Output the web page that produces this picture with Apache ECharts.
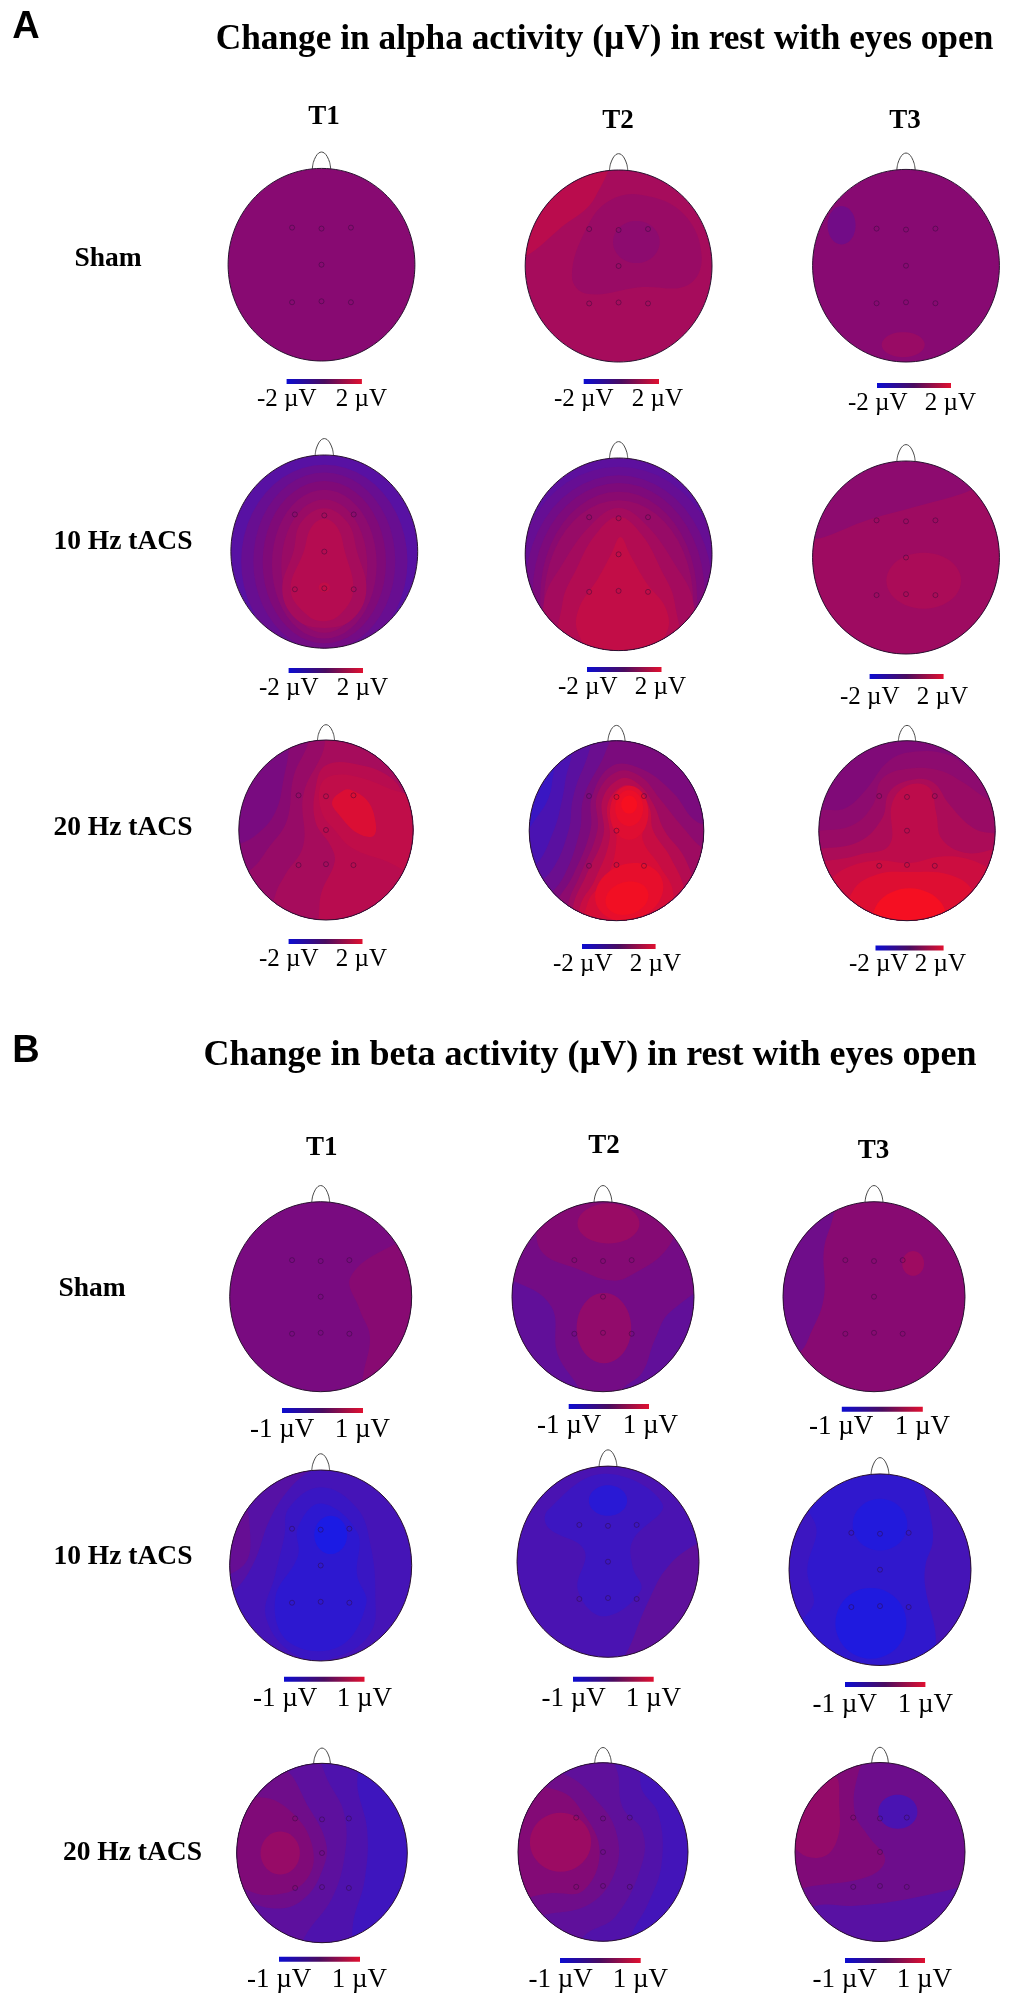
<!DOCTYPE html>
<html><head><meta charset="utf-8">
<style>html,body{margin:0;padding:0;background:#fff}#c{width:1016px;height:2010px}</style>
<script src="https://cdn.jsdelivr.net/npm/echarts@6/dist/echarts.min.js"></script>
</head><body><div id="c"></div>
<script>
// ---------- text ----------
const panelLetters = ['A','B'];
const panelTitles = ['Change in alpha activity (µV) in rest with eyes open','Change in beta activity (µV) in rest with eyes open'];
const sessions = ['T1','T2','T3'];
const conditions = ['Sham','10 Hz tACS','20 Hz tACS'];
const alphaTicks = ['-2 µV','2 µV'];
const betaTicks = ['-1 µV','1 µV'];
// ---------- electrodes (unit head coordinates) ----------
const electrodes = [[-.315,.385],[0,.375],[.315,.385],[0,0],[-.315,-.39],[0,-.38],[.315,-.39]];
const noseLine = [[-.1,.985],[-.088,1.06],[-.06,1.125],[-.03,1.16],[0,1.17],[.03,1.16],[.06,1.125],[.088,1.06],[.1,.985]];
// ---------- contour levels: v in µV, e=[cx,cy,rx,ry,rotDeg] or p=outline ----------
const alphaShamT1 = {base:.12, regions:[]};
const alphaShamT2 = {base:.6, regions:[
 {v:.92,p:[[-.13,1.2],[-.25,.72],[-.55,.45],[-1.1,.12],[-1.3,1.2]]},
 {v:.4,p:[[.25,.74],[.70,.54],[.89,.09],[.74,-.2],[.25,-.22],[-.34,-.29],[-.5,-.11],[-.34,.40],[-.1,.68]]},
 {v:.2,e:[.19,.25,.25,.22,0]}]};
const alphaShamT3 = {base:.12, regions:[
 {v:-.24,e:[-.69,.42,.15,.2,0]},{v:.4,e:[-.03,-.82,.23,.13,0]}]};
const alpha10T1 = {base:-.68, regions:[
 {v:-.4,e:[0,-.1,.89,1,0]},{v:-.2,e:[0,-.1,.76,.92,0]},{v:0,e:[0,-.11,.66,.84,0]},{v:.2,e:[0,-.13,.56,.77,0]},{v:.4,e:[0,-.15,.46,.69,0]},
 {v:.6,p:[[0,.45],[.25,.3],[.35,0],[.45,-.4],[.3,-.7],[0,-.79],[-.3,-.7],[-.45,-.4],[-.33,0],[-.25,.3]]},
 {v:.84,p:[[0,.34],[.14,.25],[.22,0],[.31,-.4],[.18,-.64],[0,-.72],[-.18,-.66],[-.36,-.4],[-.22,0],[-.14,.25]]},
 {v:1.04,e:[0,-.37,.06,.05,0]}]};
const alpha10T2 = {base:-.6, regions:[
 {v:-.44,e:[0,-.3,1.1,1.21,0]},{v:-.24,e:[0,-.35,1,1.17,0]},{v:-.04,e:[0,-.4,.92,1.14,0]},{v:.16,e:[0,-.45,.84,1.1,0]},{v:.36,e:[0,-.5,.8,1.06,0]},
 {v:.56,p:[[0,.48],[.3,.3],[.6,-.1],[.8,-.5],[.75,-1.15],[-.75,-1.15],[-.8,-.5],[-.6,-.1],[-.3,.3]]},
 {v:.8,p:[[0,.39],[.25,.2],[.45,-.15],[.6,-.5],[.6,-1.15],[-.6,-1.15],[-.6,-.5],[-.45,-.15],[-.25,.2]]},
 {v:1.04,p:[[.02,.18],[.12,0],[.3,-.3],[.5,-.55],[.52,-.8],[.3,-1.02],[-.25,-1.02],[-.44,-.8],[-.42,-.55],[-.22,-.25],[-.08,0]]}]};
const alpha10T3 = {base:.2, regions:[
 {v:.48,p:[[-1.3,.1],[-.88,.21],[-.4,.39],[.23,.56],[.65,.68],[1.3,.95],[1.3,-1.3],[-1.3,-1.3]]},
 {v:.68,e:[.19,-.24,.4,.29,0]}]};
const alpha20T1 = {base:-.12, regions:[
 {v:.12,p:[[-.43,1.2],[-.43,.87],[-.48,.6],[-.58,.2],[-.81,-.06],[-1.1,-.2],[-1.3,-.3],[-1.3,-1.3],[1.3,-1.3],[1.3,1.3]]},
 {v:.36,p:[[-.2,1.2],[-.2,.98],[-.37,.6],[-.45,.1],[-.66,-.2],[-.85,-.43],[-1.3,-.7],[-1.3,-1.3],[1.3,-1.3],[1.3,1.3]]},
 {v:.6,p:[[.1,1.2],[-.05,.83],[-.26,.39],[-.26,-.17],[-.47,-.5],[-.58,-.72],[-.7,-1.3],[1.3,-1.3],[1.3,.9],[.8,.95]]},
 {v:.88,p:[[0,.72],[-.12,.46],[-.12,.09],[.05,-.17],[.1,-.35],[-.05,-.69],[-.08,-.94],[-.1,-1.3],[1.3,-1.3],[1.3,.3],[.98,.3],[.76,.57],[.4,.72]]},
 {v:1.0,p:[[.1,.61],[-.06,.5],[-.05,.2],[.1,0],[.3,-.2],[.7,-.35],[1.3,-.6],[1.3,.25],[.75,.45],[.4,.58]]},
 {v:1.44,p:[[.2,.44],[.07,.31],[.15,.17],[.37,-.04],[.55,-.06],[.56,.13],[.47,.33],[.3,.44]]}]};
const alpha20T2 = {base:-1.2, regions:[
 {v:-.92,p:[[-.6,1.2],[-.72,.65],[-.78,.36],[-.95,.1],[-1.1,-.1],[-1.3,-.2],[-1.3,-1.3],[1.3,-1.3],[1.3,1.3]]},
 {v:-.64,p:[[-.32,1.2],[-.55,.7],[-.62,.36],[-.72,0],[-.95,-.4],[-1.3,-.5],[-1.3,-1.3],[1.3,-1.3],[1.3,1.3]]},
 {v:-.36,p:[[-.1,1.2],[-.38,.7],[-.5,.36],[-.55,0],[-.75,-.45],[-1.1,-.75],[-1.3,-1.3],[1.3,-1.3],[1.3,1.3]]},
 {v:-.08,p:[[.12,1.2],[-.2,.72],[-.38,.36],[-.42,0],[-.6,-.5],[-.85,-.85],[-.95,-1.3],[1.3,-1.3],[1.3,1.3]]},
 {v:.2,p:[[-.05,.72],[.3,.68],[.65,.42],[.92,.1],[1.3,0],[1.3,-1.3],[-.7,-1.3],[-.7,-.85],[-.5,-.5],[-.3,0],[-.28,.38]]},
 {v:.48,p:[[.02,.66],[.28,.6],[.5,.35],[.75,.05],[1,-.2],[1.3,-.3],[1.3,-1.3],[-.6,-1.3],[-.55,-.8],[-.42,-.5],[-.22,0],[-.22,.4]]},
 {v:.8,p:[[.05,.58],[.25,.52],[.42,.3],[.55,0],[.78,-.3],[.9,-.7],[.85,-1.3],[-.5,-1.3],[-.5,-.85],[-.35,-.5],[-.15,-.05],[-.16,.35]]},
 {v:1.12,p:[[.08,.5],[.25,.45],[.38,.25],[.42,0],[.62,-.3],[.78,-.7],[.7,-1.3],[-.42,-1.3],[-.42,-.85],[-.25,-.55],[-.08,-.1],[-.1,.3]]},
 {v:1.36,p:[[.1,.42],[.25,.35],[.34,.15],[.3,-.1],[.5,-.4],[.65,-.7],[.55,-1.3],[-.35,-1.3],[-.33,-.8],[-.1,-.5],[0,-.1],[-.05,.2]]},
 {v:1.5,e:[.145,.2,.22,.3,0]},{v:1.68,e:[.145,.25,.16,.2,0]},{v:1.88,e:[.145,.29,.09,.1,0]},
 {v:1.62,e:[.145,-.68,.4,.31,-20]},{v:1.8,e:[.12,-.75,.25,.18,-15]}]};
const alpha20T3 = {base:0, regions:[
 {v:.2,p:[[-1.3,.2],[-.96,.23],[-.7,.25],[-.47,.45],[-.2,.78],[.1,.88],[.48,.84],[.75,.65],[1.3,.4],[1.3,-1.3],[-1.3,-1.3]]},
 {v:.4,p:[[-1.3,0],[-1,0],[-.62,.06],[-.39,.28],[-.28,.58],[.03,.69],[.37,.67],[.63,.54],[.9,.36],[1.3,.2],[1.3,-1.3],[-1.3,-1.3]]},
 {v:.68,p:[[-1.3,-.2],[-1,-.2],[-.54,-.12],[-.28,.14],[-.2,.43],[.03,.56],[.29,.54],[.48,.29],[.75,.03],[1,-.03],[1.3,-.03],[1.3,-1.3],[-1.3,-1.3]]},
 {v:.96,p:[[-.2,-.16],[-.17,.3],[0,.5],[.25,.48],[.33,.2],[.4,-.1],[.7,-.25],[1.3,-.2],[1.3,-1.3],[-1.3,-1.3],[-1.3,-.5],[-.55,-.27]]},
 {v:1.2,p:[[-1.3,-.75],[-.96,-.6],[-.7,-.42],[-.35,-.33],[.03,-.36],[.37,-.29],[.67,-.31],[.94,-.42],[1.3,-.6],[1.3,-1.3],[-1.3,-1.3]]},
 {v:1.48,p:[[-.8,-1.3],[-.62,-.68],[-.35,-.49],[.03,-.46],[.48,-.49],[.75,-.68],[.9,-1.3]]},
 {v:1.84,e:[.03,-.98,.42,.34,0]}]};
const betaShamT1 = {base:-.06, regions:[
 {v:.06,p:[[.83,.56],[.33,.21],[.43,-.14],[.54,-.42],[.47,-.81],[.4,-1.3],[1.3,-1.3],[1.3,.7]]}]};
const betaShamT2 = {base:-.1, regions:[
 {v:.04,p:[[-.73,.7],[-.65,.45],[-.3,.3],[.1,.17],[.35,.25],[.7,.5],[.8,.8],[.6,1.2],[-.6,1.2]]},
 {v:.2,e:[.06,.77,.34,.21,0]},{v:.14,e:[.01,-.33,.3,.37,0]},
 {v:-.26,p:[[-1.3,.2],[-1,.17],[-.57,-.1],[-.5,-.6],[-.25,-1],[-.2,-1.3],[-1.3,-1.3]]},
 {v:-.26,p:[[1.3,.1],[.75,-.15],[.57,-.45],[.43,-.8],[.2,-1],[.2,-1.3],[1.3,-1.3]]}]};
const betaShamT3 = {base:.06, regions:[
 {v:-.14,p:[[-.45,.84],[-.55,.5],[-.55,0],[-.68,-.35],[-.85,-.6],[-1.3,-.6],[-1.3,1.2],[-.4,1.2]]},
 {v:.24,e:[.43,.35,.12,.13,0]}]};
const beta10T1 = {base:-.5, regions:[
 {v:-.36,p:[[.1,1.2],[-.3,.85],[-.55,.5],[-.75,0],[-1,-.3],[-1.3,-.4],[-1.3,1.2]]},
 {v:-.22,p:[[-.9,.75],[-.78,.4],[-.85,0],[-1.3,-.1],[-1.3,.8]]},
 {v:-.6,p:[[0,.82],[.4,.6],[.55,.2],[.6,-.3],[.55,-.7],[.2,-.95],[-.25,-.95],[-.6,-.55],[-.5,-.1],[-.4,.3],[-.35,.6]]},
 {v:-.7,p:[[0,.65],[.4,.35],[.4,-.1],[.5,-.4],[.2,-.85],[-.35,-.8],[-.5,-.35],[-.25,.1],[-.25,.4]]},
 {v:-.86,e:[.11,.32,.18,.2,0]}]};
const beta10T2 = {base:-.46, regions:[
 {v:-.28,p:[[1.3,.3],[1,.2],[.66,-.05],[.45,-.4],[.27,-.82],[.1,-1.3],[1.3,-1.3]]},
 {v:-.58,p:[[-.05,.92],[.6,.6],[.27,.22],[.27,-.05],[.36,-.3],[-.05,-.57],[-.33,-.3],[-.26,.12],[-.66,.36],[-.66,.54]]},
 {v:-.74,e:[0,.64,.21,.16,0]}]};
const beta10T3 = {base:-.68, regions:[
 {v:-.5,p:[[.45,1.2],[.55,.6],[.58,.3],[.5,.05],[.5,-.2],[.6,-.6],[.7,-1.2],[1.3,-1.2],[1.3,1.2]]},
 {v:-.58,p:[[-1.3,1],[-.72,.5],[-.8,0],[-.75,-.4],[-1.3,-.7]]},
 {v:-.8,e:[.0,.47,.3,.27,0]},{v:-.82,e:[-.1,-.56,.39,.37,0]}]};
const beta20T1 = {base:-.56, regions:[
 {v:-.42,p:[[.35,1.2],[.42,.7],[.53,.25],[.5,-.3],[.38,-.7],[.22,-1.3],[-1.3,-1.3],[-1.3,1.2]]},
 {v:-.3,p:[[-.2,1.2],[.1,.75],[.26,.44],[.27,0],[.12,-.5],[-.2,-.93],[-.35,-1.3],[-1.3,-1.3],[-1.3,1.2]]},
 {v:-.14,p:[[-.5,.95],[-.15,.5],[.05,.1],[0,-.2],[-.2,-.5],[-.5,-.62],[-.9,-.5],[-1.3,0],[-1.3,.7]]},
 {v:0,p:[[-.7,.62],[-.35,.45],[-.12,.1],[-.15,-.25],[-.45,-.45],[-.9,-.4],[-1.3,0],[-1.1,.5]]},
 {v:.18,e:[-.49,0,.23,.24,0]}]};
const beta20T2 = {base:-.52, regions:[
 {v:-.4,p:[[.4,1.2],[.45,.72],[.65,.43],[.69,-.13],[.53,-.58],[.34,-.91],[.2,-1.3],[-1.3,-1.3],[-1.3,1.2]]},
 {v:-.28,p:[[.15,.95],[.23,.5],[.46,.24],[.46,-.13],[.15,-.72],[-.23,-.95],[-.4,-1.3],[-1.3,-1.3],[-1.3,1.2],[-.1,1.2]]},
 {v:-.14,p:[[-.46,.87],[-.08,.58],[.15,.24],[.15,-.2],[-.15,-.58],[-.76,-.72],[-1.3,-.9],[-1.3,1]]},
 {v:.02,p:[[-.53,.69],[-.23,.43],[-.04,0],[-.23,-.43],[-.6,-.46],[-1.3,-.5],[-1.3,.7]]},
 {v:.22,e:[-.5,.11,.36,.33,0]}]};
const beta20T3 = {base:-.16, regions:[
 {v:-.34,p:[[-1.3,-.8],[-.75,-.6],[-.3,-.6],[.3,-.53],[1,-.38],[1.3,-.3],[1.3,-1.3],[-1.3,-1.3]]},
 {v:0,p:[[-.1,1.2],[-.25,.9],[-.3,.45],[-.13,.17],[.06,-.08],[-.13,-.27],[-.8,-.38],[-1.3,-.45],[-1.3,1.2]]},
 {v:.16,p:[[-.55,.85],[-.48,.5],[-.5,.15],[-.66,-.05],[-.95,0],[-1.3,.5]]},
 {v:-.46,e:[.21,.45,.23,.19,0]}]};

const maps = [alphaShamT1,alphaShamT2,alphaShamT3,alpha10T1,alpha10T2,alpha10T3,alpha20T1,alpha20T2,alpha20T3,
              betaShamT1,betaShamT2,betaShamT3,beta10T1,beta10T2,beta10T3,beta20T1,beta20T2,beta20T3];
const ranges = [2,2,2,2,2,2,2,2,2,1,1,1,1,1,1,1,1,1];

// ---------- page layout (pixels) ----------
const headBoxes = [[321.5,264.7,93.4,96.3],[618.6,266,93.4,96],[906,265.7,93.4,96.3],
 [324.3,551.6,93.4,96.6],[618.6,554.3,93.4,96.3],[906,557.5,93.4,96.5],
 [326,830,87.2,90],[616.5,830.7,87.3,90],[907,830.7,88.2,90],
 [320.7,1296.7,91,95],[603,1296.7,91,95],[874,1296.7,91,95],
 [320.7,1565.5,91,95.5],[608,1561.7,91,95.6],[880,1569.7,91,95.8],
 [322,1853,85.3,89.7],[603,1852,85,89.3],[880,1852,85,89.5]];
const barBoxes = [[286.6,361.9,379],[583.7,659,379],[877,951,383],
 [288.6,363,668],[587,661.5,667],[869.6,943.6,674],
 [288.6,362.5,939],[582,655.6,944],[875.5,943.6,945.5],
 [282,363,1408],[568.7,649,1404],[841.8,922.8,1406.7],
 [284,364.5,1676.7],[573,653.7,1676.7],[845,925.4,1682],
 [279,360,1956.7],[560,640.7,1958],[845,925,1958]];
const tickRows = [[257,387,399],[554,683,399],[848,976,403],
 [259,388,688],[558,686,687],[840,968,697],
 [259,387,959],[553,681,964],[849,966,964],
 [250,390,1430],[537,678,1426],[809,950,1427],
 [253,392,1699],[541.5,681,1699],[812.6,953,1705],
 [247,387,1980],[528.5,668,1980],[812.6,952,1980]];
const sessionLabelPos = [[324,117],[618,121],[905,121],[321.7,1148],[604,1146],[873.5,1150.7]];
const conditionLabelPos = [[108,259],[123,542],[123,828],[92,1289],[123,1556.7],[132.5,1852.7]];
const SERIF = '"Liberation Serif","Times New Roman",serif';

function levelColor(v, range){
  const t = Math.max(0, Math.min(1, (v / range + 1) / 2));
  return echarts.color.lerp(t, ['#0a1ef5','#800a78','#ff0f1a']);
}
const grids=[],xAxes=[],yAxes=[],series=[],titles=[],graphics=[];
function text(t,x,y,font,weight,align){
  titles.push({text:t,left:x,top:y,textAlign:align||'center',textVerticalAlign:'middle',padding:0,
    textStyle:{fontFamily:font,fontSize:weight.size,fontWeight:weight.w,color:'#000'}});
}
maps.forEach((m,i)=>{
  const [cx,cy,rx,ry]=headBoxes[i], r=ranges[i];
  grids.push({left:cx-rx,width:2*rx,top:cy-1.25*ry,height:2.25*ry,containLabel:false,show:false});
  xAxes.push({type:'value',gridIndex:i,min:-1,max:1,show:false});
  yAxes.push({type:'value',gridIndex:i,min:-1,max:1.25,show:false});
  const items=[{v:m.base,e:[0,0,1.02,1.02,0]}].concat(m.regions);
  series.push({type:'custom',xAxisIndex:i,yAxisIndex:i,silent:true,clip:false,z:2,
    data:items.map(d=>[0,0,d.v]),
    renderItem:(p,api)=>{
      const d=items[p.dataIndex], o=api.coord([0,0]), ux=api.size([1,0])[0], uy=api.size([0,1])[1];
      let pts, smooth=.4;
      if(d.e){
        const [ex,ey,erx,ery,rot]=d.e, a=rot*Math.PI/180; pts=[]; smooth=0;
        for(let k=0;k<48;k++){const q=k/48*2*Math.PI, lx=erx*Math.cos(q), ly=ery*Math.sin(q);
          pts.push(api.coord([ex+lx*Math.cos(a)+ly*Math.sin(a), ey-lx*Math.sin(a)+ly*Math.cos(a)]));}
      } else pts=d.p.map(q=>api.coord(q));
      return {type:'polygon',shape:{points:pts,smooth:smooth},style:{fill:levelColor(api.value(2),r),stroke:null},
        clipPath:{type:'ellipse',shape:{cx:o[0],cy:o[1],rx:ux,ry:uy}}};
    }});
  series.push({type:'custom',xAxisIndex:i,yAxisIndex:i,silent:true,clip:false,z:3,data:[[0,0]],
    renderItem:(p,api)=>{const o=api.coord([0,0]);
      return {type:'ellipse',shape:{cx:o[0],cy:o[1],rx:api.size([1,0])[0],ry:api.size([0,1])[1]},
        style:{fill:'none',stroke:'#2a1230',lineWidth:1}};}});
  series.push({type:'line',xAxisIndex:i,yAxisIndex:i,silent:true,clip:false,z:1,symbol:'none',smooth:.3,
    data:noseLine,lineStyle:{color:'#4a4a4a',width:1}});
  series.push({type:'scatter',xAxisIndex:i,yAxisIndex:i,silent:true,clip:false,z:4,symbol:'circle',symbolSize:5,
    data:electrodes,itemStyle:{color:'rgba(0,0,0,0)',borderColor:'rgba(45,10,55,.55)',borderWidth:1}});
  const [x0,x1,by]=barBoxes[i];
  graphics.push({type:'rect',shape:{x:x0,y:by,width:x1-x0,height:5},silent:true,
    style:{fill:new echarts.graphic.LinearGradient(0,0,1,0,[{offset:0,color:'#0c0cd0'},{offset:.5,color:'#4a0c60'},{offset:1,color:'#e01030'}])}});
  const [tx0,tx1,ty]=tickRows[i], ticks=r===2?alphaTicks:betaTicks, st={size:r===2?25:27,w:'normal'};
  text(ticks[0],tx0,ty,SERIF,st,'left'); text(ticks[1],tx1,ty,SERIF,st,'right');
});
text(panelLetters[0],26,28,'"Liberation Sans",Arial,sans-serif',{size:38,w:'bold'});
text(panelLetters[1],26,1052,'"Liberation Sans",Arial,sans-serif',{size:38,w:'bold'});
text(panelTitles[0],604.5,40,SERIF,{size:35.3,w:'bold'});
text(panelTitles[1],590,1056,SERIF,{size:36,w:'bold'});
sessionLabelPos.forEach((p,i)=>text(sessions[i%3],p[0],p[1],SERIF,{size:27,w:'bold'}));
conditionLabelPos.forEach((p,i)=>text(conditions[i%3],p[0],p[1],SERIF,{size:27.5,w:'bold'}));

const chart=echarts.init(document.getElementById('c'),null,{renderer:'canvas',width:1016,height:2010});
chart.setOption({animation:false,backgroundColor:'#fff',title:titles,grid:grids,xAxis:xAxes,yAxis:yAxes,series:series,graphic:graphics,tooltip:{show:false}});
</script></body></html>
